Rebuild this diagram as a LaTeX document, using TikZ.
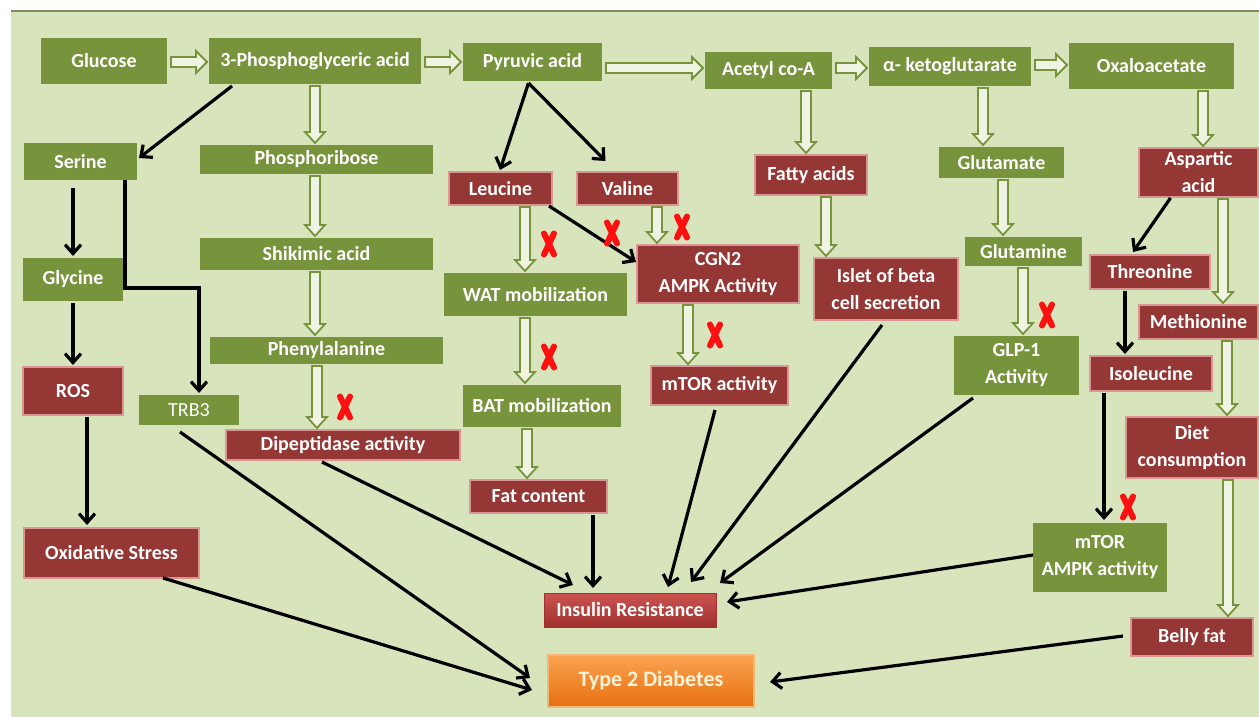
\documentclass[tikz,border=0pt]{standalone}
\usepackage{fontspec}
\setmainfont{Carlito}
\usetikzlibrary{arrows.meta,calc}
\definecolor{bgc}{HTML}{D8E4BC}
\definecolor{bordc}{HTML}{7F8F60}
\definecolor{gboxc}{HTML}{77933C}
\definecolor{rboxc}{HTML}{953735}
\definecolor{rbord}{HTML}{D99694}
\definecolor{holfill}{HTML}{EEF3E2}
\definecolor{insTop}{HTML}{CC5450}
\definecolor{insBot}{HTML}{9E302D}
\definecolor{tTop}{HTML}{FBA352}
\definecolor{tBot}{HTML}{E5700F}
\definecolor{tBord}{HTML}{F3B676}
\definecolor{tText}{HTML}{FFF3D6}
\definecolor{xred}{HTML}{FF1010}
\tikzset{
  box/.style={inner sep=0pt, outer sep=0pt, text=white, font=\bfseries\fontsize{20}{27}\selectfont, align=center},
  gbox/.style={box, fill=gboxc},
  rbox/.style={box, fill=rboxc, draw=rbord, line width=1.5pt},
  hol/.style={draw=gboxc, fill=holfill, line width=1.8pt, line join=miter},
  blk/.style={draw=black, line width=3.2pt, -{Straight Barb[length=9pt,width=16pt]}},
  rxs/.style={draw=xred, line width=6pt, line cap=round}
}
\newcommand\hdn[3]{%
  \draw[hol] let \p1=(#1.south), \p2=(#2.north) in
  ({#3pt-5pt},{\y1-2pt}) -- ({#3pt-5pt},{\y2+13pt}) -- ({#3pt-10pt},{\y2+13pt}) --
  ({#3pt},{\y2+2pt}) -- ({#3pt+10pt},{\y2+13pt}) -- ({#3pt+5pt},{\y2+13pt}) --
  ({#3pt+5pt},{\y1-2pt}) -- cycle;}
\newcommand\hrt[3]{%
  \draw[hol] let \p1=(#1.east), \p2=(#2.west) in
  ({\x1+4pt},{-#3pt+5pt}) -- ({\x2-13pt},{-#3pt+5pt}) -- ({\x2-13pt},{-#3pt+11pt}) --
  ({\x2-2pt},{-#3pt}) -- ({\x2-13pt},{-#3pt-11pt}) -- ({\x2-13pt},{-#3pt-5pt}) --
  ({\x1+4pt},{-#3pt-5pt}) -- cycle;}
\newcommand\rx[2]{\draw[rxs] (#1-5,#2-10.5) -- (#1+5,#2+10.5) (#1+5,#2-10.5) -- (#1-5,#2+10.5);}
\begin{document}
\begin{tikzpicture}[x=1pt,y=-1pt]
\useasboundingbox (0,0) rectangle (1259,717);
\fill[white] (0,0) rectangle (1259,717);
\fill[bgc] (11,11) rectangle (1259,717);
\draw[bordc, line width=1.5pt] (11,11) -- (1259,11);

% top row
\node[gbox, minimum width=126pt, minimum height=46pt] (glucose) at (104,61) {Glucose};
\node[gbox, minimum width=212pt, minimum height=46pt] (pga) at (315,61) {3-Phosphoglyceric acid};
\node[gbox, minimum width=139pt, minimum height=38pt] (pyr) at (532.5,62) {Pyruvic acid};
\node[gbox, minimum width=127pt, minimum height=37pt] (acetyl) at (768.5,70.5) {Acetyl co-A};
\node[gbox, minimum width=162pt, minimum height=39pt] (akg) at (950,66.5) {α- ketoglutarate};
\node[gbox, minimum width=165pt, minimum height=46pt] (oxalo) at (1151.5,66) {Oxaloacetate};

% second row
\node[gbox, minimum width=113pt, minimum height=37pt] (serine) at (80.5,161.5) {Serine};
\node[gbox, minimum width=233pt, minimum height=29pt] (phosrib) at (316.5,159.5) {Phosphoribose};
\node[rbox, minimum width=103pt, minimum height=33pt] (leucine) at (500.5,188.5) {Leucine};
\node[rbox, minimum width=101pt, minimum height=33pt] (valine) at (627.5,188.5) {Valine};
\node[rbox, minimum width=112pt, minimum height=40pt] (fatty) at (811,175) {Fatty acids};
\node[gbox, minimum width=125pt, minimum height=31pt] (glutamate) at (1001.5,162.5) {Glutamate};
\node[rbox, minimum width=119pt, minimum height=49pt] (aspartic) at (1198.5,172.5) {Aspartic\\acid};

% third row
\node[gbox, minimum width=100pt, minimum height=43pt] (glycine) at (73,279.5) {Glycine};
\node[gbox, minimum width=233pt, minimum height=32pt] (shikimic) at (316.5,254) {Shikimic acid};
\node[gbox, minimum width=183pt, minimum height=43pt] (wat) at (535.5,294.5) {WAT mobilization};
\node[rbox, minimum width=162pt, minimum height=58pt] (cgn2) at (718,274) {CGN2\\AMPK Activity};
\node[rbox, minimum width=144pt, minimum height=62pt] (islet) at (886,289) {Islet of beta\\cell secretion};
\node[gbox, minimum width=117pt, minimum height=29pt] (glutamine) at (1023.5,251.5) {Glutamine};
\node[rbox, minimum width=120pt, minimum height=34pt] (threonine) at (1150,272) {Threonine};
\node[rbox, minimum width=119pt, minimum height=34pt] (methionine) at (1198.5,322) {Methionine};

% fourth row
\node[gbox, minimum width=233pt, minimum height=27pt] (phenyl) at (326.5,350.5) {Phenylalanine};
\node[rbox, minimum width=100pt, minimum height=48pt] (ros) at (73,391) {ROS};
\node[gbox, minimum width=158pt, minimum height=42pt] (bat) at (542,406) {BAT mobilization};
\node[rbox, minimum width=137pt, minimum height=39pt] (mtor) at (719.5,385.5) {mTOR activity};
\node[gbox, minimum width=125pt, minimum height=59pt] (glp1) at (1016.5,365.5) {GLP-1\\Activity};
\node[rbox, minimum width=122pt, minimum height=35pt] (isoleucine) at (1151,373.5) {Isoleucine};
\node[gbox, minimum width=100pt, minimum height=30pt, font=\fontsize{20}{27}\selectfont] (trb3) at (189,410) {TRB3};
\node[rbox, minimum width=234pt, minimum height=30pt] (dipep) at (343,445) {Dipeptidase activity};
\node[rbox, minimum width=132pt, minimum height=61pt] (diet) at (1192,447.5) {Diet\\consumption};

% lower part
\node[rbox, minimum width=137pt, minimum height=33pt] (fat) at (538.5,496.5) {Fat content};
\node[gbox, minimum width=134pt, minimum height=69pt] (mtorampk) at (1100,557.5) {mTOR\\AMPK activity};
\node[rbox, minimum width=175pt, minimum height=50pt] (oxid) at (111.5,553) {Oxidative Stress};
\node[box, top color=insTop, bottom color=insBot, draw=insBot, line width=1pt, minimum width=172pt, minimum height=34pt] (ins) at (630,610) {Insulin Resistance};
\node[rbox, minimum width=122pt, minimum height=38pt] (belly) at (1192,637) {Belly fat};
\node[box, top color=tTop, bottom color=tBot, draw=tBord, line width=1.2pt, text=tText, font=\bfseries\fontsize{22}{27}\selectfont, minimum width=206pt, minimum height=52pt] (t2d) at (651,681) {Type 2 Diabetes};

% hollow arrows, horizontal
\hrt{glucose}{pga}{62}
\hrt{pga}{pyr}{62}
\hrt{pyr}{acetyl}{68}
\hrt{acetyl}{akg}{68}
\hrt{akg}{oxalo}{65}
% hollow arrows, vertical
\hdn{pga}{phosrib}{315}
\hdn{phosrib}{shikimic}{315}
\hdn{shikimic}{phenyl}{315}
\hdn{phenyl}{dipep}{317}
\hdn{leucine}{wat}{525}
\hdn{wat}{bat}{525}
\hdn{bat}{fat}{527}
\hdn{valine}{cgn2}{657}
\hdn{cgn2}{mtor}{688}
\hdn{acetyl}{fatty}{806}
\hdn{fatty}{islet}{826}
\hdn{akg}{glutamate}{983}
\hdn{glutamate}{glutamine}{1003}
\hdn{glutamine}{glp1}{1023}
\hdn{oxalo}{aspartic}{1203}
\hdn{aspartic}{methionine}{1223}
\hdn{methionine}{diet}{1227}
\hdn{diet}{belly}{1228}

% black arrows
\draw[blk] ($(pga.south west)+(23,2)$) -- ($(serine.east)+(2,-3.5)$);
\draw[blk] ($(serine.south)+(-7.5,8)$) -- ($(glycine.north)+(0,-2)$);
\draw[blk] ($(serine.south)+(44.5,0)$) -- ++(0,108) -| ($(trb3.north)+(10,-2)$);
\draw[blk] ($(glycine.south)+(0,2)$) -- ($(ros.north)+(0,-2)$);
\draw[blk] ($(ros.south)+(14,2)$) -- ($(oxid.north)+(-24.5,-3)$);
\draw[blk] ($(pyr.south)+(-4,2)$) -- ($(leucine.north)+(-0.5,-2)$);
\draw[blk] ($(pyr.south)+(-4,2)$) -- ($(valine.north)+(-22,-11)$);
\draw[blk] ($(leucine.south east)+(-3,1)$) -- ($(cgn2.west)+(-1,-12)$);
\draw[blk] ($(aspartic.south)+(-28,1)$) -- ($(threonine.north)+(-17,-3)$);
\draw[blk] ($(threonine.south)+(-25,2)$) -- ($(isoleucine.north)+(-26,-2)$);
\draw[blk] ($(isoleucine.south)+(-47,2)$) -- ($(mtorampk.north)+(4,-3)$);
\draw[blk] ($(oxid.south)+(51.5,0)$) -- ($(t2d.west)+(-16,9)$);
\draw[blk] ($(trb3.south)+(-9,7)$) -- ($(t2d.west)+(-18,-3)$);
\draw[blk] ($(dipep.south)+(-21,2)$) -- ($(ins.north)+(-57,-8)$);
\draw[blk] ($(fat.south)+(54.5,2)$) -- ($(ins.north)+(-37,-5)$);
\draw[blk] ($(mtor.south)+(-4.5,5)$) -- ($(ins.north)+(38,-6)$);
\draw[blk] ($(islet.south)+(-4,5)$) -- ($(ins.north)+(61,-11)$);
\draw[blk] ($(glp1.south)+(-43.5,3)$) -- ($(ins.north)+(90,-10)$);
\draw[blk] ($(mtorampk.west)+(0,-2.5)$) -- ($(ins.east)+(11,-8)$);
\draw[blk] ($(belly.west)+(-8,-1)$) -- ($(t2d.east)+(16,1)$);

% red crosses
\rx{345}{407}
\rx{549}{244}
\rx{612}{233}
\rx{682}{227}
\rx{549}{357}
\rx{715}{335}
\rx{1047}{315}
\rx{1128}{507}
\end{tikzpicture}
\end{document}
